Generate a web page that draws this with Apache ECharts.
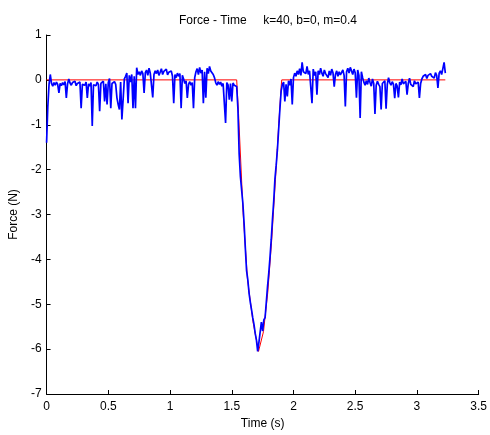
<!DOCTYPE html>
<html>
<head>
<meta charset="utf-8">
<script src="https://cdn.jsdelivr.net/npm/echarts@6/dist/echarts.min.js"></script>
<style>
    html, body { margin: 0; padding: 0; background: #fff; }
    #forcechart { width: 490px; height: 435px; }
</style>
</head>
<body>
<div id="forcechart"></div>
<script>
//measured force, one sample every 0.01 s starting at t = 0
var sampleStep = 0.01;
var measuredForce = [
    -1.40, -0.60, -0.10, 0.12, -0.08, -0.14, -0.06, -0.12, -0.05, -0.10,
    -0.29, -0.08, -0.13, -0.06, -0.11, -0.04, -0.40, -0.09, 0.02, -0.07,
    -0.12, -0.06, -0.10, -0.03, -0.13, -0.08, -0.11, -0.05, -0.63, -0.10,
    -0.07, -0.12, -0.05, -0.40, -0.09, -0.14, -0.06, -1.03, -0.11, -0.08,
    -0.13, -0.05, -0.10, -0.70, -0.08, -0.12, -0.03, -0.48, -0.09, -0.55,
    -0.06, 0.03, -0.63, -0.08, -0.12, -0.04, -0.10, -0.40, -0.55, -0.66,
    -0.05, -0.88, -0.44, 0.02, 0.08, 0.15, -0.52, 0.10, -0.05, 0.12,
    -0.63, 0.08, -0.63, 0.27, 0.12, 0.18, 0.10, 0.20, 0.14, -0.29,
    0.16, 0.22, 0.10, 0.26, 0.15, 0.18, -0.39, 0.12, 0.20, 0.14,
    0.22, 0.10, 0.17, 0.25, 0.12, 0.19, 0.15, 0.24, 0.11, 0.17,
    0.13, 0.20, 0.08, -0.52, 0.12, 0.05, 0.15, 0.08, 0.14, -0.63,
    0.10, 0.02, -0.08, -0.02, -0.40, -0.10, -0.04, -0.12, -0.06, -0.63,
    0.05, 0.18, 0.25, 0.12, 0.28, 0.15, 0.22, -0.52, 0.18, -0.40,
    0.26, 0.14, 0.30, 0.20, 0.24, 0.12, 0.05, -0.06, -0.12, -0.04,
    -0.10, -0.05, -0.14, -0.08, -0.12, -0.96, -0.06, -0.11, -0.44, -0.08,
    -0.48, -0.07, -0.12, -0.10, -0.15, -0.65, -1.65, -2.15, -2.45, -2.75,
    -3.20, -3.75, -4.25, -4.45, -4.75, -4.95, -5.12, -5.30, -5.45, -5.65,
    -5.80, -6.05, -5.85, -5.62, -5.40, -5.60, -5.35, -5.30, -4.95, -4.60,
    -4.30, -3.95, -3.55, -3.10, -2.70, -2.20, -1.90, -1.55, -1.10, -0.65,
    -0.25, -0.10, -0.05, -0.48, -0.10, -0.37, -0.02, -0.12, 0.02, -0.55,
    0.05, 0.15, 0.08, 0.20, 0.12, 0.25, 0.10, 0.39, 0.18, 0.22,
    0.14, 0.30, 0.12, 0.20, 0.16, -0.52, 0.24, 0.10, 0.18, -0.33,
    0.20, 0.12, 0.26, 0.15, 0.08, 0.22, 0.14, 0.18, 0.05, 0.20,
    0.10, 0.24, 0.16, -0.15, 0.12, 0.20, 0.08, 0.18, 0.11, 0.15,
    0.22, 0.10, -0.59, 0.18, 0.26, 0.15, 0.28, 0.20, 0.12, 0.24,
    0.16, -0.40, 0.22, 0.10, -0.85, 0.18, 0.05, -0.05, -0.12, -0.02,
    -0.10, 0.04, -0.06, -0.14, 0.02, -0.08, -0.76, -0.12, -0.03, -0.10,
    -0.15, -0.66, -0.08, -0.12, -0.02, -0.64, -0.10, 0.05, -0.06, -0.12,
    -0.04, -0.10, -0.41, -0.08, -0.14, -0.39, -0.05, -0.11, 0.02, -0.09,
    -0.12, -0.03, -0.33, -0.08, 0.04, -0.10, -0.06, -0.15, -0.02, -0.09,
    -0.12, -0.05, -0.40, -0.08, 0.02, 0.08, 0.05, 0.12, 0.03, 0.10,
    0.06, 0.14, 0.08, 0.12, 0.04, 0.16, 0.10, -0.18, 0.15, 0.20,
    0.12, 0.25, 0.39, 0.15
];

//model curve (red)
var modelTime = [0, 1.540, 1.555, 1.592, 1.627, 1.672, 1.717, 1.757, 1.792, 1.824, 1.854, 1.881, 1.900, 1.905, 3.23];
var modelForce = [0, 0, -0.75, -2.96, -4.43, -5.39, -6.05, -5.61, -4.73, -3.55, -2.22, -0.97, -0.16, 0, 0];

var xTicks = [0, 0.5, 1, 1.5, 2, 2.5, 3, 3.5];
var yTicks = [-7, -6, -5, -4, -3, -2, -1, 0, 1];

var chartDom = document.getElementById('forcechart');
var myChart = echarts.init(chartDom);

var measuredData = measuredForce.map(function (v, i) {
    return [i * sampleStep, v];
});
var modelData = modelTime.map(function (t, i) {
    return [t, modelForce[i]];
});

var fontFamily = 'Liberation Sans, Arial, sans-serif';

var option = {
    animation: false,
    title: {
        text: 'Force - Time     k=40, b=0, m=0.4',
        left: 263,
        top: 10,
        textAlign: 'center',
        textStyle: {
            fontFamily: fontFamily,
            fontSize: 12,
            fontWeight: 'normal',
            color: '#000'
        }
    },
    grid: {
        left: 45,
        right: 9,
        top: 35,
        bottom: 40
    },
    xAxis: {
        type: 'value',
        min: xTicks[0],
        max: xTicks[xTicks.length - 1],
        interval: 0.5,
        name: 'Time (s)',
        nameLocation: 'middle',
        nameGap: 24,
        nameTextStyle: { fontFamily: fontFamily, fontSize: 12, color: '#000' },
        axisLine: { onZero: false, lineStyle: { color: '#000', width: 1 } },
        axisTick: { inside: true, length: 4, lineStyle: { color: '#000' } },
        axisLabel: { fontFamily: fontFamily, fontSize: 12, color: '#000', margin: 7 },
        splitLine: { show: false }
    },
    yAxis: {
        type: 'value',
        min: yTicks[0],
        max: yTicks[yTicks.length - 1],
        interval: 1,
        name: 'Force (N)',
        nameLocation: 'middle',
        nameGap: 22,
        nameRotate: 90,
        nameTextStyle: { fontFamily: fontFamily, fontSize: 12, color: '#000' },
        axisLine: { show: true, onZero: false, lineStyle: { color: '#000', width: 1 } },
        axisTick: { show: true, inside: true, length: 4, lineStyle: { color: '#000' } },
        axisLabel: { fontFamily: fontFamily, fontSize: 12, color: '#000', margin: 5 },
        splitLine: { show: false }
    },
    series: [
        {
            name: 'model',
            type: 'line',
            data: modelData,
            showSymbol: false,
            lineStyle: { color: '#ff0000', width: 1 },
            z: 2
        },
        {
            name: 'measured',
            type: 'line',
            data: measuredData,
            showSymbol: false,
            lineStyle: { color: '#0000ff', width: 1.7 },
            z: 3
        }
    ]
};

option && myChart.setOption(option);
</script>
</body>
</html>
